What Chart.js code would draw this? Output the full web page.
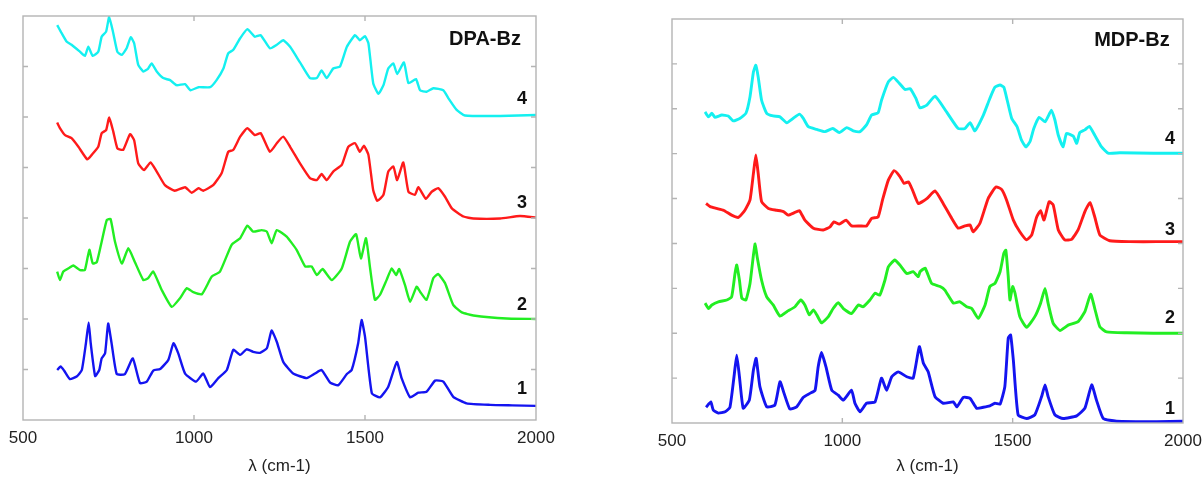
<!DOCTYPE html>
<html>
<head>
<meta charset="utf-8">
<script src="https://cdn.jsdelivr.net/npm/chart.js@4.4.1/dist/chart.umd.min.js"></script>
<style>
  html, body { margin: 0; padding: 0; background: #fff; }
  #wrap { position: relative; width: 1203px; height: 477px; overflow: hidden; }
  canvas { position: absolute; top: 0; }
  #dpaChart { left: 0; }
  #mdpChart { left: 640px; }
</style>
</head>
<body>
<div id="wrap">
  <canvas id="dpaChart" width="560" height="477"></canvas>
  <canvas id="mdpChart" width="563" height="477"></canvas>
</div>
<script>
// Espectros (número de onda cm-1, intensidad desplazada)
const xTicks = [500, 1000, 1500, 2000];
const curveNames = ['1', '2', '3', '4'];
const curveColors = ['#1414f0', '#22ee22', '#ff1a1a', '#14f0f0'];

// DPA-Bz
const dpa1 = [[600,0.99],[610,1.06],[620,0.98],[637,0.81],[657,0.86],[672,0.99],[684,1.52],[692,1.93],[698,1.52],[711,0.87],[723,0.99],[730,1.22],[740,1.32],[749,1.91],[759,1.52],[774,0.91],[798,0.91],[821,1.22],[842,0.73],[862,0.76],[881,0.98],[901,1.01],[925,1.19],[940,1.52],[954,1.32],[974,0.92],[1006,0.76],[1027,0.92],[1047,0.65],[1071,0.83],[1096,0.99],[1115,1.39],[1135,1.29],[1154,1.40],[1173,1.35],[1193,1.33],[1213,1.42],[1227,1.77],[1242,1.55],[1261,1.15],[1290,0.92],[1330,0.83],[1354,0.92],[1373,0.99],[1398,0.74],[1422,0.69],[1447,0.91],[1461,0.99],[1480,1.52],[1490,1.98],[1500,1.65],[1520,0.53],[1544,0.45],[1568,0.66],[1593,1.15],[1607,0.83],[1632,0.45],[1656,0.54],[1680,0.56],[1705,0.78],[1729,0.76],[1758,0.46],[1797,0.33],[1866,0.30],[1930,0.29],[2000,0.28]];
const dpa2 = [[600,2.94],[608,2.77],[618,2.94],[637,3.02],[647,3.06],[667,2.97],[681,2.97],[694,3.37],[704,3.10],[716,3.13],[730,3.53],[745,3.96],[756,3.98],[769,3.53],[789,3.10],[808,3.40],[827,3.13],[852,2.77],[866,2.81],[881,2.94],[906,2.57],[935,2.24],[959,2.41],[979,2.61],[998,2.53],[1023,2.49],[1052,2.84],[1076,2.94],[1110,3.47],[1135,3.60],[1156,3.85],[1173,3.73],[1198,3.76],[1213,3.73],[1227,3.50],[1242,3.76],[1271,3.63],[1300,3.37],[1325,3.04],[1344,3.04],[1359,2.87],[1376,2.99],[1403,2.77],[1432,3.00],[1456,3.53],[1474,3.68],[1488,3.20],[1503,3.60],[1515,3.00],[1529,2.38],[1544,2.48],[1563,2.77],[1578,3.00],[1591,2.87],[1600,2.99],[1617,2.67],[1632,2.34],[1651,2.64],[1661,2.54],[1680,2.38],[1700,2.81],[1714,2.89],[1734,2.71],[1758,2.28],[1783,2.13],[1817,2.07],[1914,2.01],[2000,2.00]];
const dpa3 = [[600,5.89],[608,5.78],[623,5.64],[642,5.58],[662,5.41],[688,5.16],[701,5.25],[720,5.41],[730,5.68],[743,5.74],[752,5.99],[764,5.71],[776,5.38],[793,5.35],[813,5.66],[825,5.54],[837,5.08],[854,4.95],[873,5.10],[891,4.92],[915,4.65],[944,4.54],[974,4.61],[993,4.50],[1013,4.59],[1027,4.54],[1056,4.65],[1081,4.89],[1100,5.31],[1115,5.35],[1135,5.61],[1156,5.78],[1178,5.64],[1195,5.68],[1222,5.31],[1242,5.48],[1261,5.61],[1281,5.41],[1310,5.08],[1339,4.79],[1359,4.75],[1373,4.87],[1388,4.75],[1407,4.92],[1432,5.05],[1451,5.41],[1471,5.48],[1485,5.31],[1497,5.43],[1510,5.25],[1524,4.55],[1536,4.34],[1554,4.46],[1568,4.92],[1583,5.02],[1594,4.75],[1612,5.10],[1627,4.52],[1646,4.46],[1656,4.61],[1678,4.38],[1695,4.52],[1714,4.59],[1734,4.42],[1754,4.19],[1788,4.03],[1817,3.99],[1895,3.99],[1953,4.04],[2000,4.01]];
const dpa4 = [[600,7.82],[613,7.66],[628,7.49],[642,7.43],[667,7.29],[681,7.21],[691,7.39],[704,7.21],[720,7.29],[730,7.59],[743,7.69],[752,7.98],[764,7.66],[776,7.29],[789,7.23],[803,7.36],[815,7.58],[825,7.46],[837,7.03],[852,6.90],[866,6.96],[876,7.06],[891,6.90],[910,6.77],[930,6.73],[949,6.63],[974,6.65],[990,6.53],[1013,6.59],[1047,6.59],[1066,6.73],[1086,6.96],[1100,7.26],[1115,7.33],[1135,7.56],[1156,7.74],[1178,7.59],[1195,7.62],[1222,7.36],[1242,7.43],[1261,7.52],[1281,7.39],[1310,7.08],[1339,6.77],[1359,6.77],[1373,6.92],[1388,6.77],[1407,6.96],[1427,7.00],[1447,7.39],[1471,7.62],[1485,7.52],[1500,7.60],[1510,7.46],[1524,6.67],[1539,6.46],[1554,6.63],[1568,6.96],[1583,7.06],[1594,6.85],[1614,7.08],[1627,6.67],[1649,6.75],[1661,6.53],[1680,6.50],[1700,6.57],[1729,6.53],[1744,6.37],[1768,6.14],[1792,6.03],[1895,6.02],[2000,6.04]];

// MDP-Bz
const mdp1 = [[600,0.35],[614,0.47],[621,0.29],[636,0.22],[656,0.25],[670,0.35],[682,1.03],[690,1.51],[698,1.03],[709,0.33],[727,0.51],[739,1.18],[747,1.44],[758,0.81],[778,0.36],[802,0.40],[817,0.92],[829,0.66],[846,0.31],[866,0.36],[885,0.57],[905,0.66],[920,0.73],[929,1.25],[939,1.57],[952,1.25],[969,0.73],[988,0.62],[1003,0.51],[1027,0.73],[1037,0.44],[1052,0.25],[1071,0.44],[1096,0.47],[1115,1.00],[1130,0.73],[1145,1.03],[1164,1.14],[1189,1.03],[1208,1.00],[1226,1.70],[1238,1.33],[1252,1.14],[1272,0.59],[1296,0.44],[1326,0.47],[1336,0.36],[1355,0.57],[1375,0.55],[1394,0.33],[1414,0.35],[1433,0.38],[1448,0.44],[1463,0.42],[1477,0.81],[1487,1.89],[1494,1.96],[1502,1.40],[1516,0.18],[1541,0.10],[1565,0.18],[1585,0.59],[1595,0.85],[1604,0.59],[1624,0.18],[1648,0.10],[1688,0.16],[1712,0.33],[1732,0.85],[1746,0.51],[1766,0.10],[1805,0.04],[1923,0.03],[2000,0.04]];
const mdp2 = [[597,2.67],[607,2.55],[617,2.63],[636,2.70],[661,2.74],[675,2.81],[685,3.33],[690,3.52],[698,3.18],[705,2.78],[717,2.74],[729,3.11],[739,3.74],[744,3.99],[750,3.70],[763,3.18],[778,2.81],[797,2.63],[817,2.38],[837,2.48],[861,2.59],[878,2.74],[890,2.63],[903,2.41],[915,2.52],[925,2.41],[939,2.23],[959,2.37],[973,2.55],[988,2.68],[1003,2.55],[1027,2.44],[1047,2.63],[1061,2.59],[1081,2.74],[1096,2.89],[1110,2.85],[1125,3.18],[1135,3.48],[1154,3.63],[1169,3.52],[1189,3.33],[1208,3.37],[1223,3.26],[1228,3.37],[1243,3.45],[1262,3.11],[1287,3.04],[1301,2.96],[1326,2.67],[1345,2.70],[1365,2.59],[1380,2.55],[1399,2.33],[1419,2.63],[1433,3.04],[1448,3.11],[1463,3.37],[1474,3.78],[1480,3.85],[1487,3.26],[1492,2.74],[1500,3.04],[1507,2.89],[1521,2.37],[1541,2.13],[1565,2.37],[1582,2.67],[1595,3.00],[1604,2.67],[1619,2.22],[1639,2.06],[1663,2.18],[1692,2.26],[1712,2.48],[1729,2.87],[1741,2.55],[1756,2.14],[1776,2.03],[1835,2.01],[1913,2.00],[2000,2.00]];
const mdp3 = [[600,4.89],[612,4.82],[631,4.78],[651,4.74],[675,4.63],[695,4.58],[714,4.74],[729,4.97],[739,5.56],[746,5.97],[753,5.56],[763,4.93],[783,4.78],[807,4.74],[827,4.71],[841,4.63],[858,4.68],[874,4.73],[890,4.52],[915,4.34],[944,4.30],[964,4.37],[975,4.48],[991,4.43],[1011,4.52],[1027,4.39],[1052,4.39],[1071,4.39],[1086,4.56],[1105,4.59],[1118,4.97],[1135,5.41],[1152,5.62],[1169,5.49],[1181,5.34],[1194,5.37],[1206,5.19],[1223,4.89],[1248,5.00],[1272,5.17],[1296,4.89],[1321,4.56],[1340,4.34],[1360,4.39],[1375,4.41],[1384,4.26],[1404,4.45],[1428,5.00],[1451,5.26],[1468,5.20],[1482,4.97],[1502,4.52],[1521,4.26],[1541,4.08],[1556,4.19],[1570,4.58],[1582,4.73],[1592,4.52],[1607,4.93],[1619,4.86],[1634,4.30],[1653,4.08],[1673,4.09],[1692,4.30],[1712,4.71],[1727,4.91],[1741,4.59],[1756,4.19],[1785,4.06],[1844,4.04],[1923,4.04],[2000,4.04]];
const mdp4 = [[597,6.93],[607,6.82],[617,6.90],[626,6.81],[646,6.86],[665,6.84],[680,6.73],[700,6.79],[717,6.90],[729,7.27],[739,7.82],[746,7.97],[753,7.71],[763,7.19],[778,6.90],[797,6.84],[817,6.82],[837,6.69],[856,6.79],[874,6.88],[885,6.79],[900,6.60],[925,6.54],[949,6.49],[972,6.56],[991,6.47],[1013,6.58],[1032,6.51],[1052,6.49],[1071,6.64],[1086,6.86],[1105,6.91],[1115,7.19],[1135,7.60],[1150,7.70],[1167,7.57],[1184,7.43],[1199,7.45],[1216,7.23],[1228,7.02],[1248,7.08],[1272,7.28],[1306,6.93],[1340,6.56],[1360,6.56],[1375,6.69],[1389,6.51],[1414,6.86],[1433,7.23],[1448,7.48],[1463,7.53],[1474,7.48],[1484,7.19],[1497,6.79],[1513,6.60],[1526,6.30],[1539,6.15],[1551,6.27],[1562,6.56],[1578,6.81],[1595,6.71],[1614,6.97],[1624,6.75],[1634,6.41],[1648,6.15],[1658,6.45],[1678,6.39],[1688,6.23],[1697,6.47],[1712,6.53],[1725,6.61],[1741,6.41],[1761,6.15],[1780,6.01],[1815,6.02],[1913,6.01],[2000,6.01]];

// Posiciones de las etiquetas (unidades de datos)
const dpaLabelX = 1959;
const dpaLabelY = [0.61, 2.28, 4.30, 6.36];
const dpaTitle = { text: 'DPA-Bz', x: 1851, y: 7.53 };
const mdpLabelX = 1962;
const mdpLabelY = [0.32, 2.33, 4.30, 6.33];
const mdpTitle = { text: 'MDP-Bz', x: 1850, y: 8.52 };

const FONT = "'Liberation Sans', Arial, sans-serif";

// Marco gris con marcas hacia dentro
const framePlugin = {
    id: 'frame',
    afterDraw(chart) {
        const { ctx, chartArea: a, scales: { x, y } } = chart;
        ctx.save();
        ctx.strokeStyle = '#b4b4b4';
        ctx.lineWidth = 1.4;
        ctx.strokeRect(a.left, a.top, a.right - a.left, a.bottom - a.top);
        ctx.beginPath();
        for (let v = y.min + 1; v < y.max; v++) {
            const py = y.getPixelForValue(v);
            ctx.moveTo(a.left, py); ctx.lineTo(a.left + 5, py);
            ctx.moveTo(a.right, py); ctx.lineTo(a.right - 5, py);
        }
        xTicks.slice(1, -1).forEach(v => {
            const px = x.getPixelForValue(v);
            ctx.moveTo(px, a.top); ctx.lineTo(px, a.top + 5);
            ctx.moveTo(px, a.bottom); ctx.lineTo(px, a.bottom - 5);
        });
        ctx.stroke();
        ctx.restore();
    }
};

// Números de curva y nombre del compuesto
const labelPlugin = {
    id: 'curveLabels',
    afterDraw(chart, args, opts) {
        const { ctx, scales: { x, y } } = chart;
        ctx.save();
        ctx.fillStyle = '#111';
        ctx.textAlign = 'center';
        ctx.textBaseline = 'middle';
        ctx.font = 'bold 18px ' + FONT;
        opts.ys.forEach((v, i) => {
            ctx.fillText(curveNames[i], x.getPixelForValue(opts.x), y.getPixelForValue(v));
        });
        ctx.font = 'bold 20px ' + FONT;
        ctx.fillText(opts.title.text, x.getPixelForValue(opts.title.x), y.getPixelForValue(opts.title.y));
        ctx.restore();
    }
};

function makeSpectrumChart(id, series, yMax, sizes, labels) {
    const ctx = document.getElementById(id).getContext('2d');
    return new Chart(ctx, {
        type: 'line',
        data: {
            datasets: series.map((s, i) => ({
                data: s.map(p => ({ x: p[0], y: p[1] })),
                borderColor: curveColors[i],
                borderWidth: sizes.line,
                pointRadius: 0,
                tension: 0.15,
                fill: false
            }))
        },
        options: {
            responsive: false,
            animation: false,
            devicePixelRatio: 1,
            layout: { padding: { top: sizes.top, right: sizes.right, left: 0, bottom: 0 } },
            plugins: {
                legend: { display: false },
                tooltip: { enabled: false },
                curveLabels: labels
            },
            scales: {
                x: {
                    type: 'linear',
                    min: 500,
                    max: 2000,
                    afterBuildTicks: s => { s.ticks = xTicks.map(v => ({ value: v })); },
                    afterFit: s => {
                        s.height = sizes.bottom;
                        s.paddingLeft = 0;
                        s.paddingRight = 0;
                    },
                    grid: { display: false },
                    border: { display: false },
                    ticks: {
                        color: '#222',
                        padding: 0,
                        font: { family: FONT, size: 17 },
                        callback: v => String(v)
                    },
                    title: {
                        display: true,
                        text: 'λ (cm-1)',
                        color: '#222',
                        padding: { top: 0, bottom: 0 },
                        font: { family: FONT, size: 17 }
                    }
                },
                y: {
                    min: 0,
                    max: yMax,
                    afterFit: s => { s.width = sizes.left; },
                    grid: { display: false },
                    border: { display: false },
                    ticks: { display: false }
                }
            }
        },
        plugins: [framePlugin, labelPlugin]
    });
}

makeSpectrumChart('dpaChart', [dpa1, dpa2, dpa3, dpa4], 8,
    { top: 16, right: 24, left: 23, bottom: 57, line: 2.4 },
    { x: dpaLabelX, ys: dpaLabelY, title: dpaTitle });
makeSpectrumChart('mdpChart', [mdp1, mdp2, mdp3, mdp4], 9,
    { top: 19, right: 20, left: 32, bottom: 54, line: 2.9 },
    { x: mdpLabelX, ys: mdpLabelY, title: mdpTitle });
</script>
</body>
</html>
